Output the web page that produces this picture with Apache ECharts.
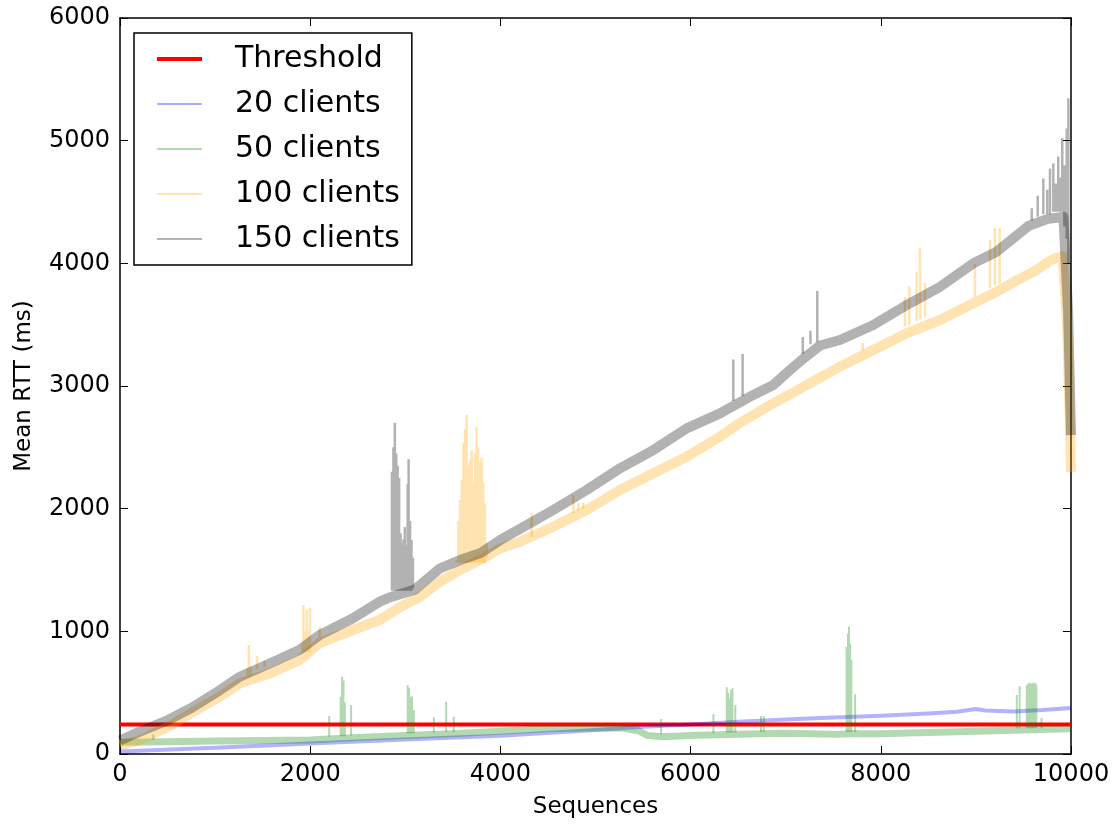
<!DOCTYPE html>
<html>
<head>
<meta charset="utf-8">
<script src="https://cdn.jsdelivr.net/npm/echarts@6/dist/echarts.min.js"></script>
<style>
  html, body { margin: 0; padding: 0; background: #fff; }
  #chart { width: 1120px; height: 829px; }
</style>
</head>
<body>
<div id="chart"></div>
<script>
// axis ticks
var xTicks = [0, 2000, 4000, 6000, 8000, 10000];
var yTicks = [0, 1000, 2000, 3000, 4000, 5000, 6000];

var threshold = 240;

// [sequence, mean rtt] (band centre)
var clients20 = [[0,20],[1000,50],[2000,85],[3000,118],[4000,148],[5000,195],[5500,222],[6000,240],[6500,262],
  [7000,282],[7500,297],[8000,312],[8500,330],[8800,345],[9000,366],[9100,355],[9400,347],[9700,358],[10000,375]];

var clients50 = [[0,95],[500,100],[1000,105],[1500,110],[2000,115],[2500,135],[3000,150],[3500,165],[4000,185],
  [4500,205],[5000,215],[5300,210],[5450,190],[5550,150],[5700,140],[6000,150],[6500,160],[7000,170],[7500,160],
  [7700,165],[8000,165],[8500,175],[9000,185],[9500,195],[10000,205]];

var clients100 = [[0,70],[200,110],[500,220],[750,334],[1050,467],[1260,576],[1580,658],[1890,766],[2100,905],
  [2450,1011],[2730,1092],[2950,1201],[3155,1282],[3365,1405],[3575,1500],[3785,1581],[4000,1677],[4206,1731],
  [4556,1853],[4907,1989],[5257,2152],[5608,2288],[5959,2424],[6309,2587],[6519,2700],[6870,2859],[7220,3008],
  [7571,3158],[7921,3293],[8272,3430],[8623,3538],[8973,3674],[9219,3769],[9446,3867],[9621,3939],[9797,4030],
  [9910,4060],[9960,3500],[10000,2300]];

var clients150 = [[0,110],[200,180],[500,275],[750,375],[1050,520],[1260,630],[1580,740],[1890,850],[2100,970],
  [2450,1106],[2730,1242],[2850,1280],[3100,1340],[3365,1514],[3575,1581],[3785,1636],[4000,1745],[4206,1835],
  [4556,1989],[4907,2152],[5257,2329],[5608,2478],[5959,2655],[6309,2777],[6659,2927],[6870,3008],[7045,3130],
  [7150,3200],[7360,3330],[7571,3375],[7921,3497],[8272,3660],[8623,3809],[8973,4000],[9219,4095],[9551,4304],
  [9750,4360],[9920,4380],[9970,3600],[10000,2600]];

// spikes: [sequence, from, to]
var spikes50 = [[350,115,160],[2200,140,310],[2320,145,467],[2335,145,630],[2350,145,600],[2365,145,420],
  [2430,150,400],[3025,170,562],[3040,170,540],[3055,170,465],[3070,170,470],[3090,170,359],[3300,175,300],
  [3430,180,426],[3510,180,304],[5690,160,285],[6240,170,326],[6380,175,544],[6395,175,500],[6410,175,450],
  [6425,175,520],[6440,175,536],[6470,175,400],[6740,180,310],[6770,180,310],[7640,180,875],[7655,180,980],
  [7665,180,1038],[7678,180,900],[7690,180,766],[7730,180,490],[9430,210,480],[9460,210,554],[9535,210,562],
  [9550,210,575],[9565,210,580],[9580,210,570],[9595,210,580],[9610,210,575],[9625,210,580],[9635,210,560],
  [9690,210,293]];

var spikes100 = [[1340,640,700],[1355,640,888],[1370,640,720],[1440,690,800],[1520,710,760],[1920,830,900],
  [1928,830,1215],[1945,830,1000],[1963,830,1174],[1980,830,1000],[1998,830,1190],[2100,950,1038],
  [3540,1560,1580],[3558,1560,1900],[3575,1560,2070],[3593,1560,2233],[3610,1560,2534],[3628,1560,2650],
  [3645,1560,2763],[3663,1560,2342],[3680,1560,2400],[3698,1560,2478],[3715,1560,2207],[3732,1560,2450],
  [3750,1560,2668],[3765,1560,2500],[3778,1560,2342],[3790,1560,2380],[3803,1560,2415],[3820,1560,2207],
  [3838,1560,2045],[3856,1600,1720],[4329,1770,1964],[4767,1960,2111],[4820,1980,2050],[4870,2000,2050],
  [7810,3290,3350],[8254,3490,3728],[8300,3500,3810],[8377,3530,3932],[8412,3545,4130],[8465,3565,3837],
  [8990,3730,3995],[9148,3800,4190],[9200,3820,4290],[9250,3835,4290]];

var spikes150 = [[2860,1330,2300],[2875,1330,2500],[2890,1330,2701],[2905,1330,2450],[2920,1330,2350],
  [2935,1330,2250],[2950,1330,1800],[2965,1330,1720],[2980,1330,1750],[2995,1330,1850],[3010,1330,1700],
  [3025,1330,2200],[3035,1330,2402],[3050,1330,1900],[3065,1330,1745],[3080,1350,1600],[6449,2880,3217],
  [6547,2920,3261],[7180,3260,3400],[7260,3340,3450],[7332,3360,3774],[9587,4350,4450],[9650,4380,4550],
  [9709,4400,4692],[9750,4400,4600],[9779,4400,4774],[9814,4420,4815],[9840,4420,4650],[9866,4420,4870],
  [9890,4420,4700],[9908,4420,5020],[9930,4300,4800],[9955,4200,5100],[9972,4000,5345]];

function spikeLine(list) {
  var out = [];
  list.forEach(function (s) {
    out.push([s[0], s[1]], [s[0], s[2]], [s[0], null]);
  });
  return out;
}

var font = 'DejaVu Sans';
var myChart = echarts.init(document.getElementById('chart'));

function band(name, data, color, width) {
  return {
    name: name, type: 'line', data: data, symbol: 'none', silent: true,
    itemStyle: { color: color },
    lineStyle: { color: color, width: width, opacity: 0.3, join: 'round' }
  };
}

function ticks() {
  return { show: true, inside: true, length: 8, lineStyle: { color: '#000', width: 1 } };
}
function spine() {
  return { show: true, onZero: false, lineStyle: { color: '#000', width: 1.5 } };
}
var plain = function (v) { return String(v); };

var options = {
  animation: false,
  backgroundColor: '#fff',
  grid: { left: 120, right: 49, top: 18, bottom: 75, outerBoundsMode: 'none', containLabel: false },
  legend: {
    left: 134, top: 33,
    orient: 'vertical',
    backgroundColor: '#fff',
    borderColor: '#000',
    borderWidth: 1.5,
    borderRadius: 0,
    padding: [11, 12, 11, 21],
    itemWidth: 45,
    itemHeight: 30,
    itemGap: 15,
    itemStyle: { opacity: 0 },
    textStyle: { fontFamily: font, fontSize: 30, color: '#000', padding: [0, 0, 0, 28] },
    data: [
      { name: 'Threshold', lineStyle: { color: '#ff0000', width: 4, opacity: 1 } },
      { name: '20 clients', lineStyle: { color: '#aaaaff', width: 2, opacity: 1 } },
      { name: '50 clients', lineStyle: { color: '#b3d9b3', width: 2, opacity: 1 } },
      { name: '100 clients', lineStyle: { color: '#ffe4b3', width: 2, opacity: 1 } },
      { name: '150 clients', lineStyle: { color: '#b3b3b3', width: 2, opacity: 1 } }
    ]
  },
  xAxis: [{
    type: 'value', min: 0, max: 10000, interval: 2000,
    name: 'Sequences', nameLocation: 'middle', nameGap: 42,
    nameTextStyle: { fontFamily: font, fontSize: 23, color: '#000' },
    axisLine: spine(), axisTick: ticks(), splitLine: { show: false },
    axisLabel: { fontFamily: font, fontSize: 24, color: '#000', margin: 9, formatter: plain }
  }, {
    type: 'value', min: 0, max: 10000, interval: 2000, position: 'top',
    axisLine: spine(), axisTick: ticks(), splitLine: { show: false }, axisLabel: { show: false }
  }],
  yAxis: [{
    type: 'value', min: 0, max: 6000, interval: 1000,
    name: 'Mean RTT (ms)', nameLocation: 'middle', nameGap: 84,
    nameTextStyle: { fontFamily: font, fontSize: 23, color: '#000' },
    axisLine: spine(), axisTick: ticks(), splitLine: { show: false },
    axisLabel: { fontFamily: font, fontSize: 24, color: '#000', margin: 10, formatter: plain }
  }, {
    type: 'value', min: 0, max: 6000, interval: 1000, position: 'right',
    axisLine: spine(), axisTick: ticks(), splitLine: { show: false }, axisLabel: { show: false }
  }],
  series: [
    {
      name: 'Threshold', type: 'line', symbol: 'none', silent: true,
      data: [[0, threshold], [10000, threshold]],
      itemStyle: { color: '#ff0000' },
      lineStyle: { color: '#ff0000', width: 4 }
    },
    band('20 clients', clients20, '#0000ff', 4),
    band('50 clients', clients50, '#008000', 7),
    band('50 clients', spikeLine(spikes50), '#008000', 2),
    band('100 clients', clients100, '#ffa500', 10),
    band('100 clients', spikeLine(spikes100), '#ffa500', 2.5),
    band('150 clients', clients150, '#000000', 10),
    band('150 clients', spikeLine(spikes150), '#000000', 2.5)
  ]
};

myChart.setOption(options);
</script>
</body>
</html>
